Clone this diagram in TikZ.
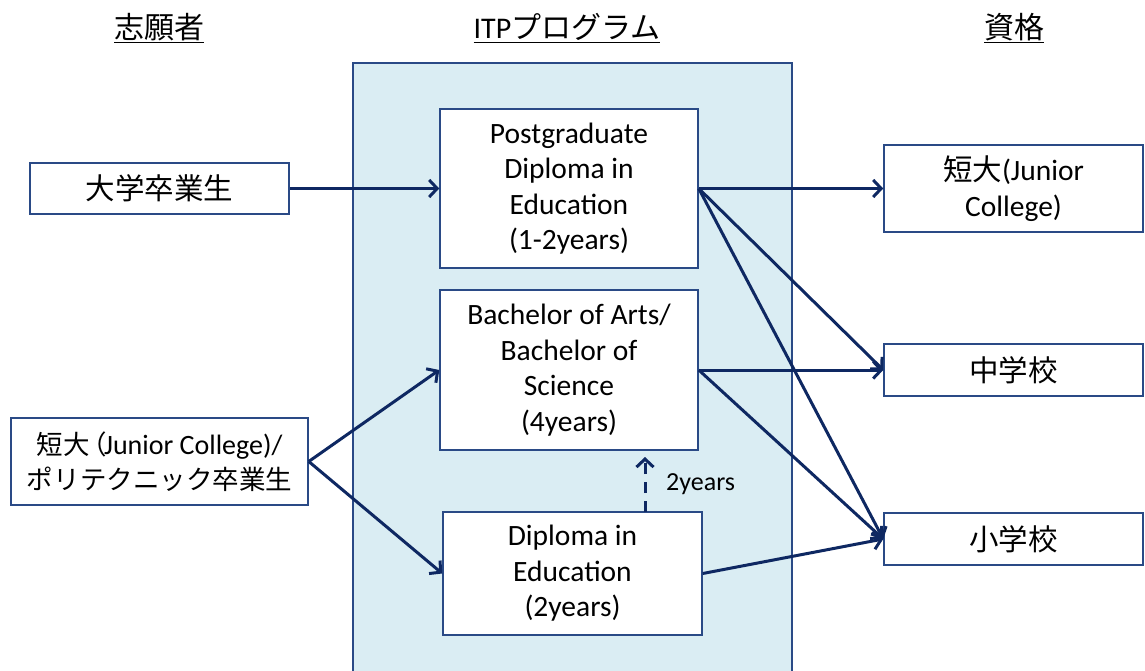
\documentclass[tikz,border=0pt]{standalone}
\usepackage{fontspec}
\setmainfont{Carlito}
\newfontfamily\jp{Noto Sans CJK JP}
\usetikzlibrary{arrows.meta}
\definecolor{boxline}{HTML}{2A4A86}
\definecolor{arrowc}{HTML}{0E2862}
\definecolor{panelfill}{HTML}{DAEDF3}
\begin{document}
\begin{tikzpicture}[x=1pt,y=-1pt,
  box/.style={draw=boxline, line width=1.5pt, fill=white, align=center, inner sep=0pt,
              font=\fontsize{29.5}{35.5}\selectfont},
  title/.style={font=\jp\fontsize{30}{34}\selectfont, inner sep=0pt},
  flow/.style={draw=arrowc, line width=3pt,
               -{Straight Barb[length=8pt,width=17pt,line width=3pt]}},
  note/.style={font=\fontsize{26}{30}\selectfont, inner sep=0pt}
 ]
\useasboundingbox (0,0) rectangle (1145,671);

% column headings
\node[title] (hA) at (159,28) {\underline{志願者}};
\node[title] (hB) at (567,28) {\underline{{\fontspec{Carlito}ITP}プログラム}};
\node[title] (hC) at (1014,28) {\underline{資格}};

% programme panel (open at the bottom edge)
\fill[panelfill] (353,63) rectangle (792,671);
\draw[boxline, line width=1.5pt] (353,671) -- (353,63) -- (792,63) -- (792,671);

% applicants
\node[box, minimum width=259pt, minimum height=51pt] (grad) at (159.5,188.5) {\jp 大学卒業生};
\node[box, minimum width=297pt, minimum height=87pt, font=\fontsize{28}{35}\selectfont]
  (jc) at (159.5,461.5)
  {{\jp\fontsize{26.5}{35}\selectfont 短大\kern-9pt（}\kern-3pt Junior College)/\\
   {\jp\fontsize{26.5}{35}\selectfont ポリテクニック卒業生}};

% programmes
\node[box, minimum width=258pt, minimum height=159pt] (pgde) at (569,188.5)
  {Postgraduate\\Diploma in\\Education\\(1-2years)};
\node[box, minimum width=258pt, minimum height=160pt] (ba) at (569,370)
  {Bachelor of Arts/\\Bachelor of\\Science\\(4years)};
\node[box, minimum width=259pt, minimum height=123pt] (dip) at (572.5,573.5)
  {Diploma in\\Education\\(2years)};

% qualifications
\node[box, minimum width=259pt, minimum height=87pt] (qjc) at (1013.5,188.5)
  {{\jp 短大}(Junior\\College)};
\node[box, minimum width=259pt, minimum height=52pt] (qms) at (1013.5,370) {\jp 中学校};
\node[box, minimum width=259pt, minimum height=52pt] (qps) at (1013.5,539) {\jp 小学校};

% connectors
\draw[flow] (grad.east) -- (pgde.west);
\draw[flow] (jc.east) -- (ba.west);
\draw[flow] (jc.east) -- (dip.west);
\draw[flow] (pgde.east) -- (qjc.west);
\draw[flow] (pgde.east) -- (qms.west);
\draw[flow] (pgde.east) -- (qps.west);
\draw[flow] (ba.east) -- (qms.west);
\draw[flow] (ba.east) -- (qps.west);
\draw[flow] (dip.east) -- (qps.west);

% bridging route from the diploma up to the degree
\coordinate (up0) at (645,512);
\coordinate (up1) at (645,457);
\draw[flow, dash pattern=on 11pt off 8pt] (up0) -- (up1);
\node[note, anchor=west] (yrs) at (666,484) {2years};
\end{tikzpicture}
\end{document}
